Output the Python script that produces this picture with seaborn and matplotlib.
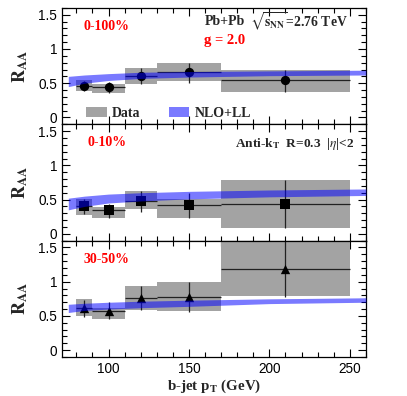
import numpy as np
import matplotlib
matplotlib.use('Agg')
import matplotlib.pyplot as plt
import seaborn as sns
from matplotlib.patches import Patch
from matplotlib.ticker import MultipleLocator, FuncFormatter

# bin centres / edges (GeV)
pt = [85, 100, 120, 150, 210]
pt_lo = [80, 90, 110, 130, 170]
pt_hi = [90, 110, 130, 170, 250]

# 0-100%
raa_all = [0.46, 0.44, 0.60, 0.66, 0.54]
stat_all_lo = [0.38, 0.36, 0.49, 0.51, 0.37]
stat_all_hi = [0.53, 0.52, 0.72, 0.80, 0.70]
sys_all_lo = [0.38, 0.36, 0.49, 0.53, 0.37]
sys_all_hi = [0.55, 0.49, 0.72, 0.80, 0.70]

# 0-10%
raa_c = [0.41, 0.345, 0.475, 0.42, 0.44]
stat_c_lo = [0.29, 0.23, 0.32, 0.23, 0.09]
stat_c_hi = [0.515, 0.44, 0.62, 0.60, 0.78]
sys_c_lo = [0.28, 0.23, 0.355, 0.23, 0.09]
sys_c_hi = [0.51, 0.39, 0.62, 0.51, 0.78]

# 30-50%
raa_p = [0.61, 0.575, 0.755, 0.77, 1.18]
stat_p_lo = [0.485, 0.45, 0.58, 0.56, 0.78]
stat_p_hi = [0.73, 0.705, 0.94, 1.00, 1.65]
sys_p_lo = [0.50, 0.46, 0.58, 0.57, 0.79]
sys_p_hi = [0.745, 0.62, 0.94, 0.99, 1.65]

# NLO+LL band
band_pt = [75, 85, 100, 120, 150, 200, 260]
band_all_lo = [0.45, 0.50, 0.54, 0.57, 0.59, 0.61, 0.62]
band_all_hi = [0.60, 0.62, 0.64, 0.66, 0.67, 0.68, 0.69]
band_c_lo = [0.35, 0.40, 0.45, 0.48, 0.51, 0.54, 0.56]
band_c_hi = [0.52, 0.55, 0.58, 0.60, 0.62, 0.64, 0.655]
band_p_lo = [0.55, 0.58, 0.60, 0.62, 0.64, 0.68, 0.70]
band_p_hi = [0.67, 0.685, 0.70, 0.715, 0.73, 0.75, 0.765]

panels = [
    ('0-100%', 'o', raa_all, stat_all_lo, stat_all_hi, sys_all_lo, sys_all_hi, band_all_lo, band_all_hi),
    ('0-10%', 's', raa_c, stat_c_lo, stat_c_hi, sys_c_lo, sys_c_hi, band_c_lo, band_c_hi),
    ('30-50%', '^', raa_p, stat_p_lo, stat_p_hi, sys_p_lo, sys_p_hi, band_p_lo, band_p_hi),
]

sns.set_theme(style='ticks')
plt.rcParams['font.family'] = ['Liberation Sans', 'DejaVu Sans']
plt.rcParams['mathtext.fontset'] = 'stix'

gray = '#a3a3a3'
blue = '#0000ff'
serif = dict(family='Liberation Serif', weight='bold')

fig, axes = plt.subplots(3, 1, figsize=(4.07, 3.96), dpi=100, sharex=True)
fig.subplots_adjust(left=0.152, right=0.899, top=0.980, bottom=0.0985, hspace=0)

x = np.array(pt)
xerr = [x - np.array(pt_lo), np.array(pt_hi) - x]

for ax, (lab, mk, raa, slo, shi, ylo, yhi, blo, bhi) in zip(axes, panels):
    ylo = np.array(ylo); yhi = np.array(yhi)
    ax.bar(x=(np.array(pt_lo) + np.array(pt_hi)) / 2, height=yhi - ylo, bottom=ylo,
           width=np.array(pt_hi) - np.array(pt_lo), color=gray, linewidth=0, zorder=1)
    r = np.array(raa)
    ax.errorbar(x, r, xerr=xerr, yerr=[r - np.array(slo), np.array(shi) - r],
                fmt='none', ecolor='#222222', elinewidth=0.9, capsize=0, zorder=2)
    sns.scatterplot(x=pt, y=raa, marker=mk, color='black', s=45, edgecolor='black',
                    linewidth=0, ax=ax, zorder=3)
    ax.fill_between(band_pt, blo, bhi, color=blue, alpha=0.52, linewidth=0, zorder=4)

    ax.set_xlim(71, 260)
    ax.set_ylim(-0.1, 1.6)
    ax.xaxis.set_major_locator(MultipleLocator(50))
    ax.xaxis.set_minor_locator(MultipleLocator(10))
    ax.yaxis.set_major_locator(MultipleLocator(0.5))
    ax.yaxis.set_minor_locator(MultipleLocator(0.1))
    ax.yaxis.set_major_formatter(FuncFormatter(lambda v, p: f'{v:g}'))
    ax.tick_params(which='both', direction='in', top=True, right=True, labelsize=9.8,
                   colors='black', width=0.8)
    ax.tick_params(which='major', length=6)
    ax.tick_params(which='minor', length=3.5)
    for s in ax.spines.values():
        s.set_linewidth(0.9)
        s.set_color('black')
    ax.set_ylabel(r'$\mathbf{R}_{\mathbf{AA}}$', fontsize=13, labelpad=6)
    ax.set_xlabel('')
    ax.text(0.148, 0.84, lab, transform=ax.transAxes, color='red', fontsize=10,
            ha='center', va='center', **serif)

axes[0].text(0.536, 0.88, 'Pb+Pb', transform=axes[0].transAxes, fontsize=10,
             ha='center', va='center', **serif)
axes[0].text(0.78, 0.88, r'$\sqrt{\mathbf{s}_{\mathbf{NN}}}$=2.76 TeV', transform=axes[0].transAxes,
             fontsize=9.8, ha='center', va='center', **serif)
axes[0].text(0.536, 0.72, 'g = 2.0', transform=axes[0].transAxes, color='red', fontsize=10.5,
             ha='center', va='center', **serif)
axes[1].text(0.765, 0.83, r'Anti-k$_{\mathbf{T}}$  R=0.3  |$\eta$|<2', transform=axes[1].transAxes,
             fontsize=9.6, ha='center', va='center', **serif)

handles = [Patch(facecolor=gray, edgecolor='none', label='Data'),
           Patch(facecolor=blue, alpha=0.52, edgecolor='none', label='NLO+LL')]
axes[0].legend(handles=handles, loc='lower left', bbox_to_anchor=(0.079, 0.04), ncol=2,
               frameon=False, prop=dict(family='Liberation Serif', weight='bold', size=10),
               handlelength=1.5, handleheight=0.75, columnspacing=2.0, handletextpad=0.4,
               borderpad=0, borderaxespad=0)

axes[2].set_xlabel(r'b-jet p$_{\mathbf{T}}$ (GeV)', fontsize=10.8, labelpad=1, **serif)

plt.savefig('out.png', dpi=100)
